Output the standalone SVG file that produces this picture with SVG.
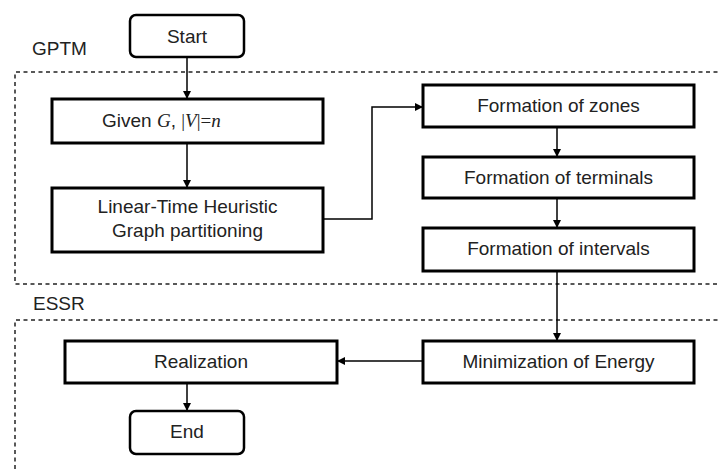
<svg xmlns="http://www.w3.org/2000/svg" width="718" height="470" viewBox="0 0 718 470">
<style>
.box{fill:#fff;stroke:#000;stroke-width:3}
.term{fill:#fff;stroke:#000;stroke-width:2.5}
.t{font-family:"Liberation Sans",Arial,sans-serif;font-size:19px;fill:#222;text-anchor:middle}
.lbl{font-family:"Liberation Sans",Arial,sans-serif;font-size:19px;fill:#222}
.m{font-family:"Liberation Serif","Times New Roman",serif;font-size:19px;fill:#222}
.dash{fill:none;stroke:#222;stroke-width:1.5;stroke-dasharray:4 3.5}
.c{fill:none;stroke:#000;stroke-width:1.5}
</style>
<defs>
<marker id="ah" viewBox="0 0 10 10" refX="10" refY="5" markerWidth="8" markerHeight="8" markerUnits="userSpaceOnUse" orient="auto">
<path d="M0,0 L10,5 L0,10 z" fill="#000"/>
</marker>
</defs>
<g id="groups">
<path class="dash" d="M740,72 H15 V284 H740"/>
<path class="dash" d="M740,320 H15 V480"/>
<text class="lbl" x="32" y="55">GPTM</text>
<text class="lbl" x="33" y="310">ESSR</text>
</g>
<g id="connectors">
<path class="c" d="M187,57 V99" marker-end="url(#ah)"/>
<path class="c" d="M187,143 V188" marker-end="url(#ah)"/>
<path class="c" d="M323,219 H372 V107 H423" marker-end="url(#ah)"/>
<path class="c" d="M557,127 V157" marker-end="url(#ah)"/>
<path class="c" d="M557,198 V228" marker-end="url(#ah)"/>
<path class="c" d="M557,271 V341" marker-end="url(#ah)"/>
<path class="c" d="M423,361 H337" marker-end="url(#ah)"/>
<path class="c" d="M187,383 V411" marker-end="url(#ah)"/>
</g>
<g id="start">
<rect class="term" x="130" y="15" width="114" height="42" rx="6"/>
<text class="t" x="187" y="43">Start</text>
</g>
<g id="given">
<rect class="box" x="52" y="99" width="271" height="44"/>
<text x="102" y="127"><tspan class="lbl">Given </tspan><tspan class="m" font-style="italic">G</tspan><tspan class="lbl">, </tspan><tspan class="m">|</tspan><tspan class="m" font-style="italic">V</tspan><tspan class="m">|=</tspan><tspan class="m" font-style="italic">n</tspan></text>
</g>
<g id="partition">
<rect class="box" x="52" y="188" width="271" height="64"/>
<text class="t" x="187.5" y="213">Linear-Time Heuristic</text>
<text class="t" x="187.5" y="237">Graph partitioning</text>
</g>
<g id="zones">
<rect class="box" x="423" y="85" width="271" height="42"/>
<text class="t" x="558.5" y="112">Formation of zones</text>
</g>
<g id="terminals">
<rect class="box" x="423" y="157" width="271" height="41"/>
<text class="t" x="558.5" y="183.5">Formation of terminals</text>
</g>
<g id="intervals">
<rect class="box" x="423" y="228" width="271" height="43"/>
<text class="t" x="558.5" y="255">Formation of intervals</text>
</g>
<g id="energy">
<rect class="box" x="423" y="341" width="271" height="42"/>
<text class="t" x="558.5" y="367.5">Minimization of Energy</text>
</g>
<g id="realization">
<rect class="box" x="65" y="341" width="272" height="42"/>
<text class="t" x="201" y="367.5">Realization</text>
</g>
<g id="end">
<rect class="term" x="130" y="411" width="114" height="43" rx="6"/>
<text class="t" x="187" y="438">End</text>
</g>
</svg>
